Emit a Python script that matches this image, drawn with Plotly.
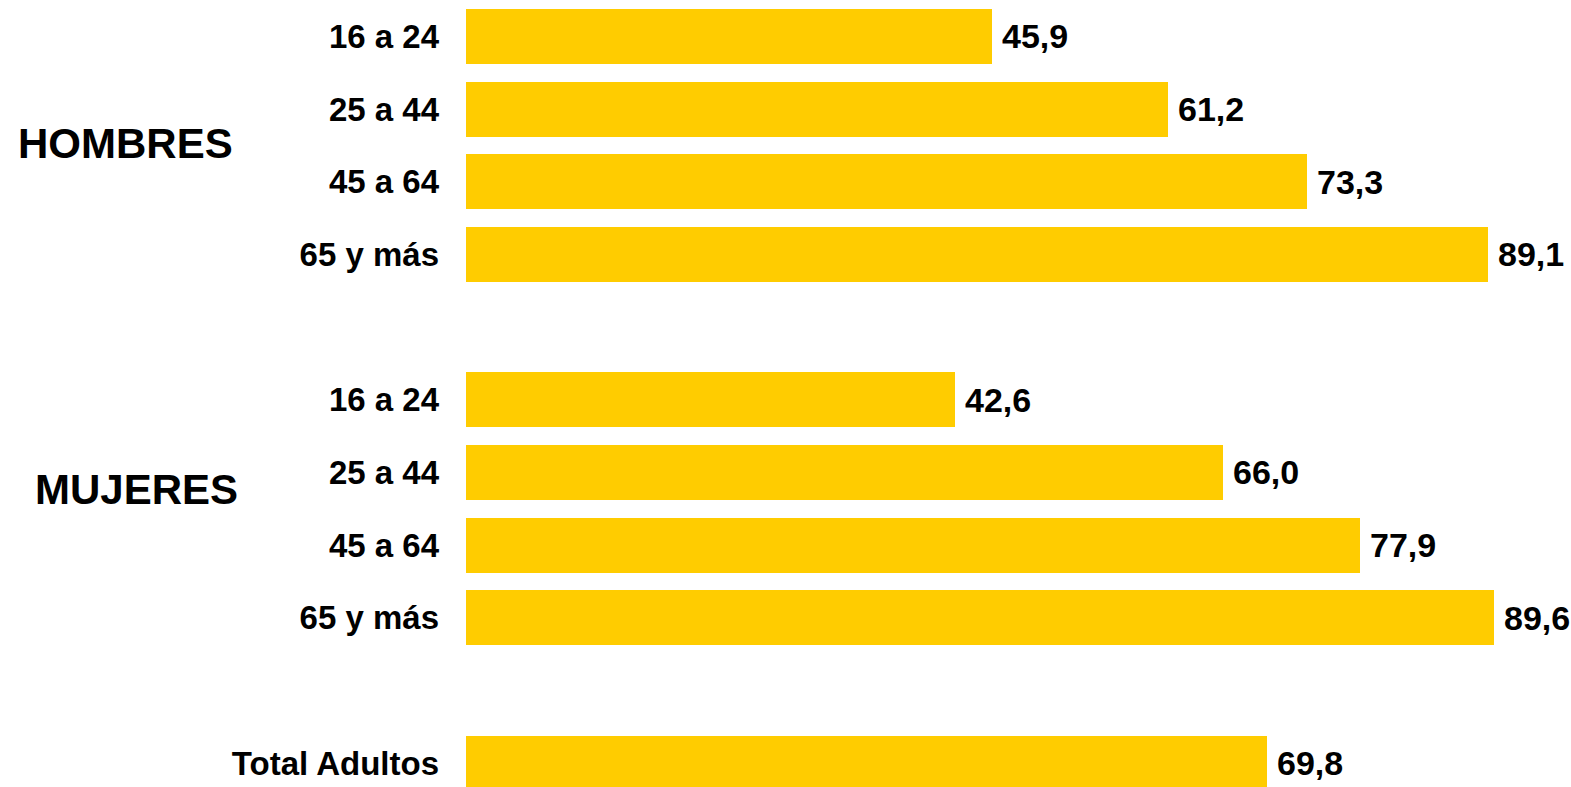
import plotly.graph_objects as go

categories = ["16 a 24", "25 a 44", "45 a 64", "65 y más",
              "16 a 24", "25 a 44", "45 a 64", "65 y más",
              "Total Adultos"]
slots = [0, 1, 2, 3, 5, 6, 7, 8, 10]
values = [45.9, 61.2, 73.3, 89.1, 42.6, 66.0, 77.9, 89.6, 69.8]
groups = ["HOMBRES", "MUJERES"]
group_slots = [1.47, 6.23]
group_xpx = [125, 136]

W, H = 1571, 787
left = 466
bar_color = "#FFCC00"
font_family = "Liberation Sans, Arial, sans-serif"

fig = go.Figure(go.Bar(
    x=values, y=slots, orientation="h",
    marker=dict(color=bar_color, line=dict(width=0)),
    width=0.757,
    hoverinfo="skip",
))

for v, s in zip(values, slots):
    fig.add_annotation(
        text="<b>%s</b>" % f"{v:.1f}".replace(".", ","),
        x=v, y=s, xref="x", yref="y", xanchor="left", yanchor="middle",
        xshift=8, showarrow=False,
        font=dict(family=font_family, size=34, color="black"),
    )

px_per_unit = 11.47
fig.update_xaxes(range=[0, (W - left) / px_per_unit], visible=False, fixedrange=True)
fig.update_yaxes(
    range=[10.33, -0.5],
    tickvals=slots, ticktext=["<b>%s</b>" % c for c in categories],
    tickfont=dict(family=font_family, size=33, color="black"),
    showgrid=False, zeroline=False, showline=False,
    ticks="", ticklabelstandoff=26, fixedrange=True,
)

for g, s, xp in zip(groups, group_slots, group_xpx):
    fig.add_annotation(
        text="<b>%s</b>" % g, xref="paper", yref="y",
        x=(xp - left) / (W - left), y=s, xanchor="center", yanchor="middle",
        showarrow=False,
        font=dict(family=font_family, size=42, color="black"),
    )

fig.update_layout(
    width=W, height=H,
    margin=dict(l=left, r=0, t=0, b=0, autoexpand=False),
    plot_bgcolor="white", paper_bgcolor="white",
    showlegend=False,
    bargap=0,
)

fig.write_html("out.html", config={"displayModeBar": False},
               post_script="document.body.style.margin='0';document.body.style.overflow='hidden';")
